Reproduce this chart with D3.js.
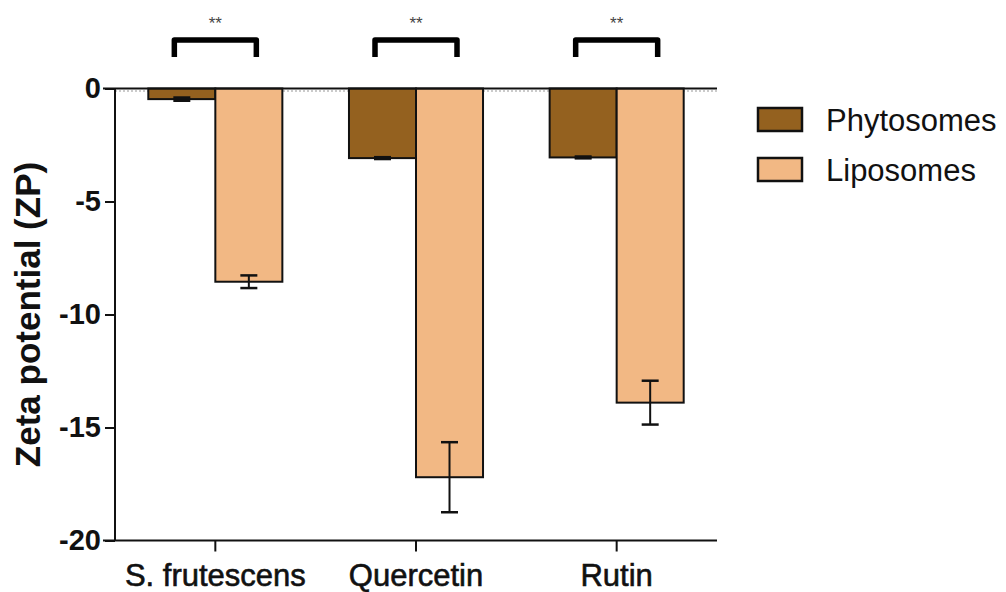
<!DOCTYPE html>
<html>
<head>
<meta charset="utf-8">
<script src="https://cdn.jsdelivr.net/npm/d3@7"></script>
<style>
  html, body { margin: 0; padding: 0; background: #fff; }
  svg { display: block; font-family: "Liberation Sans", Arial, sans-serif; }
</style>
</head>
<body>
<svg id="chart" width="1006" height="592"></svg>
<script>
// Zeta potential of phytosome vs liposome formulations
const categories = ["S. frutescens", "Quercetin", "Rutin"];
const seriesNames = ["Phytosomes", "Liposomes"];
const phytosomeMean = [-0.47, -3.08, -3.05];
const phytosomeErr  = [0.06, 0.03, 0.03];
const liposomeMean  = [-8.55, -17.2, -13.9];
const liposomeErr   = [0.28, 1.55, 0.97];
const yTicks = [0, -5, -10, -15, -20];
const significance = ["**", "**", "**"];
const colors = ["#94611f", "#f2b884"];

const svg = d3.select("#chart");

const plot = { left: 115, right: 717, top: 88.5, bottom: 540.5 };

const x0 = d3.scaleBand()
  .domain(categories)
  .range([plot.left, plot.right])
  .paddingInner(0.332)
  .paddingOuter(0.166);

const x1 = d3.scaleBand()
  .domain(seriesNames)
  .range([0, x0.bandwidth()]);

const y = d3.scaleLinear()
  .domain([0, -20])
  .range([plot.top, plot.bottom]);

const rows = categories.map((c, i) => ({
  cat: c,
  vals: [
    { s: seriesNames[0], v: phytosomeMean[i], e: phytosomeErr[i], color: colors[0] },
    { s: seriesNames[1], v: liposomeMean[i], e: liposomeErr[i], color: colors[1] }
  ]
}));

// faint dotted baseline just under the zero line
svg.append("line")
  .attr("x1", plot.left).attr("x2", plot.right)
  .attr("y1", y(0) + 2.5).attr("y2", y(0) + 2.5)
  .attr("stroke", "#bbb").attr("stroke-width", 1.5)
  .attr("stroke-dasharray", "2,2");

// bars
const groups = svg.append("g").selectAll("g")
  .data(rows).join("g")
  .attr("transform", d => `translate(${x0(d.cat)},0)`);

groups.selectAll("rect")
  .data(d => d.vals).join("rect")
  .attr("x", d => x1(d.s))
  .attr("y", d => y(0))
  .attr("width", x1.bandwidth())
  .attr("height", d => y(d.v) - y(0))
  .attr("fill", d => d.color)
  .attr("stroke", "#111")
  .attr("stroke-width", 2);

// error bars (mean ± SD)
const capW = 17;
const eb = groups.selectAll("g.err")
  .data(d => d.vals).join("g")
  .attr("class", "err")
  .attr("stroke", "#111");

eb.append("line")
  .attr("x1", d => x1(d.s) + x1.bandwidth() / 2)
  .attr("x2", d => x1(d.s) + x1.bandwidth() / 2)
  .attr("y1", d => y(d.v - d.e))
  .attr("y2", d => y(d.v + d.e))
  .attr("stroke-width", d => d.e < 0.1 ? 5 : 2);

eb.selectAll("line.cap")
  .data(d => [d.v - d.e, d.v + d.e].map(val => ({ val, s: d.s, e: d.e })))
  .join("line")
  .attr("class", "cap")
  .attr("x1", d => x1(d.s) + x1.bandwidth() / 2 - capW / 2)
  .attr("x2", d => x1(d.s) + x1.bandwidth() / 2 + capW / 2)
  .attr("y1", d => y(d.val))
  .attr("y2", d => y(d.val))
  .attr("stroke-width", d => d.e < 0.1 ? 3 : 2.5);

// zero line
svg.append("line")
  .attr("x1", plot.left - 12).attr("x2", plot.right)
  .attr("y1", y(0)).attr("y2", y(0))
  .attr("stroke", "#111").attr("stroke-width", 2);

// y axis
const yAxis = svg.append("g")
  .attr("transform", `translate(${plot.left},0)`)
  .call(d3.axisLeft(y).tickValues(yTicks).tickSize(10).tickPadding(4).tickFormat(d => String(d)));
yAxis.select(".domain").attr("stroke", "#111").attr("stroke-width", 2)
  .attr("d", `M0,${y(0)}V${y(-20)}`);
yAxis.selectAll(".tick line").attr("stroke", "#111").attr("stroke-width", 2);
yAxis.selectAll(".tick text")
  .attr("fill", "#111")
  .style("font-size", "29px")
  .style("font-weight", "bold");

// x axis at the bottom
const xAxis = svg.append("g")
  .attr("transform", `translate(0,${plot.bottom})`)
  .call(d3.axisBottom(x0).tickSize(11).tickPadding(12));
xAxis.select(".domain").attr("stroke", "#111").attr("stroke-width", 2)
  .attr("d", `M${plot.left - 12},0H${plot.right}`);
xAxis.selectAll(".tick line").attr("stroke", "#111").attr("stroke-width", 2);
xAxis.selectAll(".tick text")
  .attr("fill", "#111")
  .attr("dy", "0.71em")
  .style("font-size", "31px")
  .style("stroke", "#111").style("stroke-width", 0.6);

// y title
svg.append("text")
  .attr("transform", `translate(40,${(plot.top + plot.bottom) / 2}) rotate(-90)`)
  .attr("text-anchor", "middle")
  .attr("fill", "#111")
  .style("font-size", "35px")
  .style("font-weight", "bold")
  .text("Zeta potential (ZP)");

// significance brackets
const br = svg.append("g").selectAll("g")
  .data(categories).join("g");
const bw = 82, bTop = 40, bBot = 57;
br.append("path")
  .attr("d", c => {
    const cx = x0(c) + x0.bandwidth() / 2;
    return `M${cx - bw / 2},${bBot}V${bTop}H${cx + bw / 2}V${bBot}`;
  })
  .attr("fill", "none")
  .attr("stroke", "#000")
  .attr("stroke-width", 5.5)
  .attr("stroke-linejoin", "round");
br.append("text")
  .attr("x", c => x0(c) + x0.bandwidth() / 2)
  .attr("y", 29)
  .attr("text-anchor", "middle")
  .attr("fill", "#444")
  .style("font-size", "17px")
  .text((c, i) => significance[i]);

// legend
const legend = svg.append("g").attr("transform", "translate(758,108)");
const li = legend.selectAll("g").data(seriesNames).join("g")
  .attr("transform", (d, i) => `translate(0,${i * 50})`);
li.append("rect")
  .attr("width", 44).attr("height", 23)
  .attr("fill", (d, i) => colors[i])
  .attr("stroke", "#111").attr("stroke-width", 2.5);
li.append("text")
  .attr("x", 68).attr("y", 12)
  .attr("dy", "0.36em")
  .attr("fill", "#111")
  .style("font-size", "31px")
  .text(d => d);
</script>
</body>
</html>
